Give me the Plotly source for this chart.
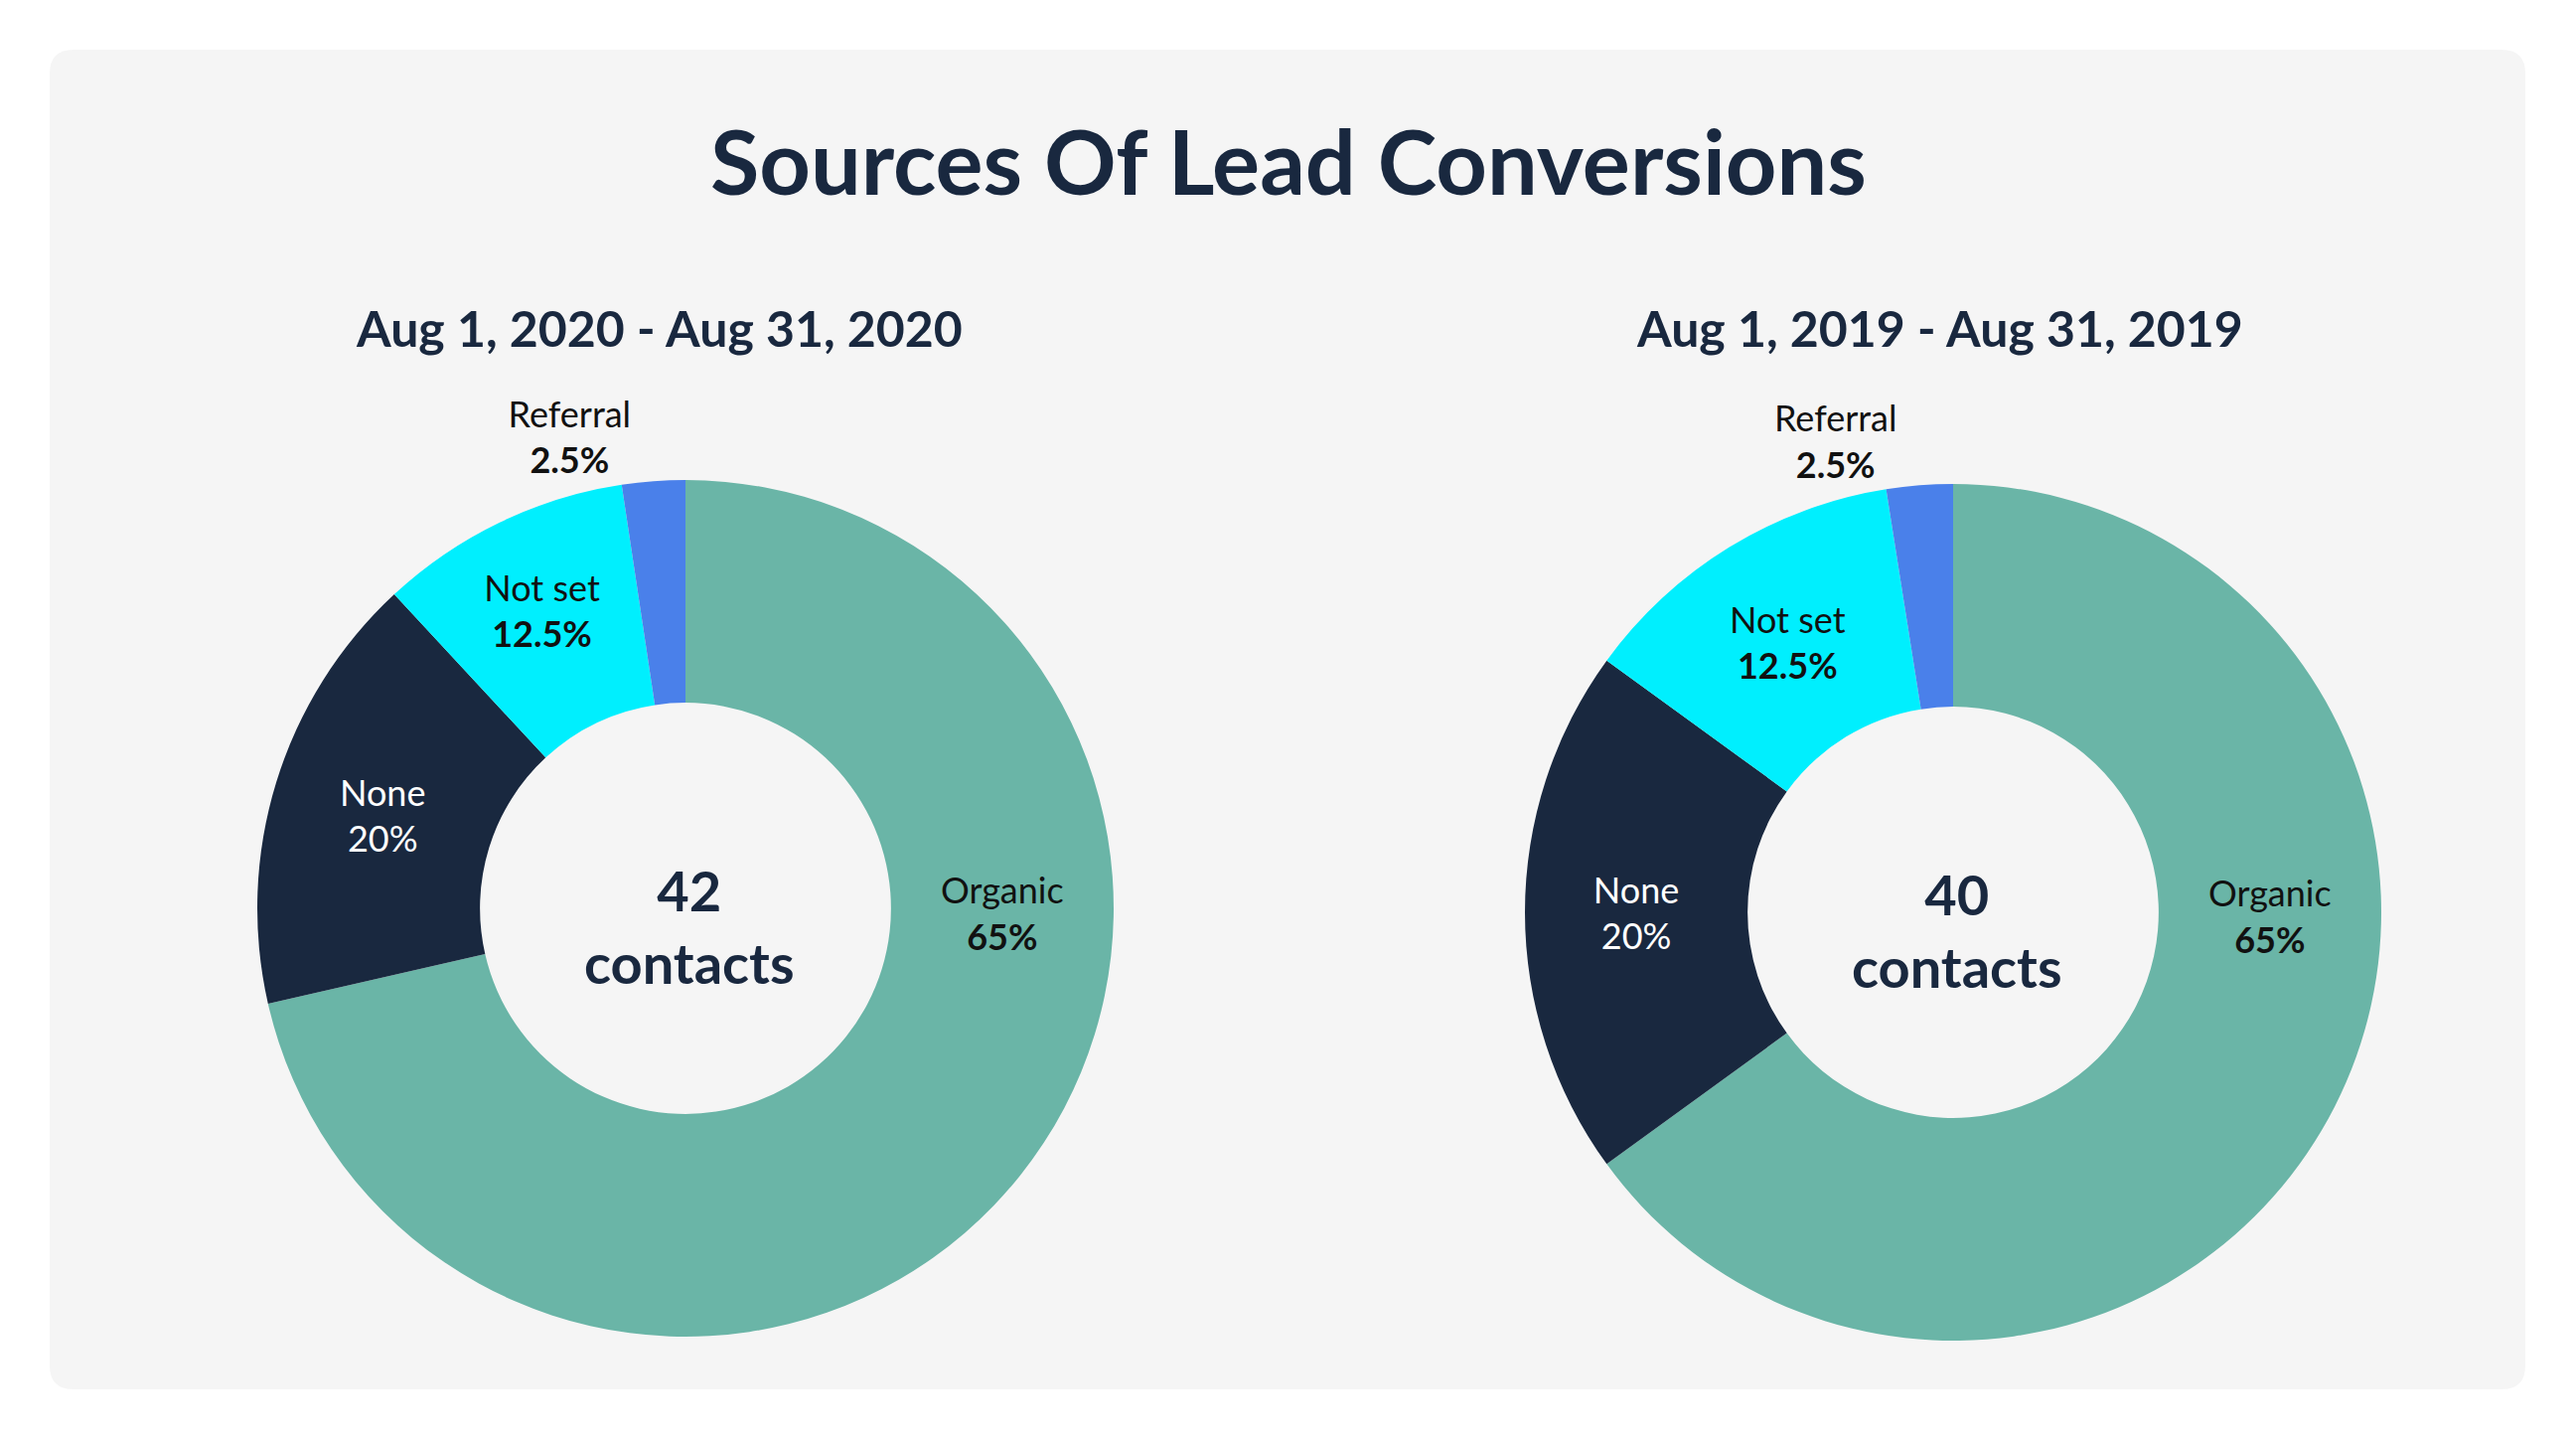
import plotly.graph_objects as go

# Data
sources = ["Organic", "None", "Not set", "Referral"]
contacts_2020 = [30, 7, 4, 1]
contacts_2019 = [26, 8, 5, 1]
share_labels = ["65%", "20%", "12.5%", "2.5%"]
totals = [42, 40]
periods = ["Aug 1, 2020 - Aug 31, 2020", "Aug 1, 2019 - Aug 31, 2019"]

colors = ["#6AB5A7", "#19283F", "#00EFFE", "#4A80EA"]
text_colors = ["#111111", "#FFFFFF", "#111111", "#111111"]
navy = "#19283F"
font = "Lato"

# page body has an 8px margin, so the figure is drawn 16px smaller
PAGE_W, PAGE_H = 2593, 1449
OFF = 8
W, H = PAGE_W - 2 * OFF, PAGE_H - 2 * OFF
R = 431
HOLE = 0.48
centers = [(690, 914), (1966, 918)]
subtitle_x = [663, 1952]
LABEL_SIZE = 36


def px_x(v):
    return (v - OFF) / W


def px_y(v):
    return 1 - (v - OFF) / H


def slice_texts():
    out = []
    for i, (name, pct) in enumerate(zip(sources, share_labels)):
        if i == 0:
            out.append("")  # organic label placed separately
        elif name == "None":
            out.append(f"{name}<br>{pct}")
        else:
            out.append(f"{name}<br><b>{pct}</b>")
    return out


fig = go.Figure()

for (cx, cy), values in zip(centers, [contacts_2020, contacts_2019]):
    fig.add_trace(go.Pie(
        labels=sources,
        values=values,
        text=slice_texts(),
        textinfo="text",
        textposition=["inside", "inside", "inside", "outside"],
        insidetextorientation="horizontal",
        textfont=dict(family=font, size=LABEL_SIZE, color=text_colors),
        outsidetextfont=dict(family=font, size=LABEL_SIZE, color="#111111"),
        marker=dict(colors=colors, line=dict(width=0)),
        hole=HOLE,
        sort=False,
        direction="clockwise",
        rotation=0,
        showlegend=False,
        hoverinfo="label+value",
        domain=dict(x=[px_x(cx - R), px_x(cx + R)],
                    y=[px_y(cy + R), px_y(cy - R)]),
    ))

annotations = [dict(
    text="<b>Sources Of Lead Conversions</b>",
    x=px_x(1297), y=px_y(161), xref="paper", yref="paper",
    xanchor="center", yanchor="middle", showarrow=False,
    font=dict(family=font, size=90, color=navy),
)]

r_mid = R * (1 + HOLE) / 2
for (cx, cy), sx, period, total in zip(centers, subtitle_x, periods, totals):
    annotations.append(dict(
        text=f"<b>{period}</b>", x=px_x(sx), y=px_y(330),
        xref="paper", yref="paper", xanchor="center", yanchor="middle",
        showarrow=False, font=dict(family=font, size=50, color=navy),
    ))
    annotations.append(dict(
        text=f"<b>{total}<br>contacts</b>", x=px_x(cx + 4), y=px_y(cy + 18),
        xref="paper", yref="paper", xanchor="center", yanchor="middle",
        showarrow=False, font=dict(family=font, size=56, color=navy),
    ))
    annotations.append(dict(
        text=f"{sources[0]}<br><b>{share_labels[0]}</b>",
        x=px_x(cx + r_mid), y=px_y(cy + 4), xref="paper", yref="paper",
        xanchor="center", yanchor="middle", showarrow=False,
        font=dict(family=font, size=LABEL_SIZE, color="#111111"),
    ))

# rounded light-gray panel
x0, x1, y0, y1 = px_x(50), px_x(2542), px_y(1398), px_y(50)
rx, ry = 24 / W, 24 / H
panel = (f"M {x0 + rx},{y0} L {x1 - rx},{y0} Q {x1},{y0} {x1},{y0 + ry} "
         f"L {x1},{y1 - ry} Q {x1},{y1} {x1 - rx},{y1} "
         f"L {x0 + rx},{y1} Q {x0},{y1} {x0},{y1 - ry} "
         f"L {x0},{y0 + ry} Q {x0},{y0} {x0 + rx},{y0} Z")

fig.update_layout(
    width=W, height=H,
    margin=dict(l=0, r=0, t=0, b=0),
    paper_bgcolor="#FFFFFF",
    plot_bgcolor="#FFFFFF",
    annotations=annotations,
    shapes=[dict(type="path", path=panel, xref="paper", yref="paper",
                 fillcolor="#F5F5F5", line=dict(width=0), layer="below")],
)

fig.write_html("out.html")
